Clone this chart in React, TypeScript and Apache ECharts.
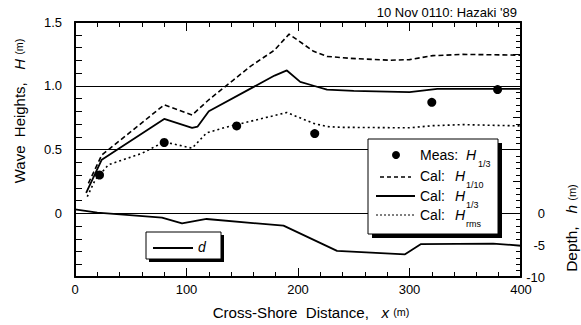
import React, { useEffect, useRef } from "react";
import * as echarts from "echarts";

const xTicks = [0, 100, 200, 300, 400];
const hTickLabels = ["0", "0.5", "1.0", "1.5"];
const depthTickLabels = ["0", "-5", "-10"];

const h110X = [12, 24, 80, 105, 120, 142, 157, 179, 192, 214, 226, 247, 283, 300, 321, 348, 400];
const h110Y = [0.235, 0.457, 0.85, 0.77, 0.89, 1.045, 1.15, 1.28, 1.405, 1.27, 1.23, 1.215, 1.2, 1.205, 1.236, 1.246, 1.24];

const h13X = [10, 24, 80, 105, 110, 120, 179, 190, 202, 214, 226, 250, 300, 325, 400];
const h13Y = [0.16, 0.42, 0.74, 0.67, 0.68, 0.8, 1.08, 1.12, 1.03, 1.0, 0.97, 0.96, 0.95, 0.975, 0.975];

const hrmsX = [11, 18, 30, 60, 80, 105, 118, 135, 190, 214, 226, 238, 300, 321, 348, 400];
const hrmsY = [0.13, 0.26, 0.38, 0.47, 0.56, 0.51, 0.63, 0.674, 0.79, 0.705, 0.68, 0.674, 0.67, 0.687, 0.695, 0.685];

const measX = [22, 80, 145, 215, 320, 379];
const measY = [0.3, 0.555, 0.685, 0.625, 0.87, 0.97];

const depthX = [0, 20, 78, 96, 118, 187, 235, 296, 310, 375, 400];
const depthY = [0.6, 0.1, -0.7, -1.6, -0.9, -1.95, -5.9, -6.45, -4.85, -4.75, -5.1];

const zip = (xs: number[], ys: number[]) => xs.map((x, i) => [x, ys[i]]);

const FONT = 'Arial, "Liberation Sans", Helvetica, sans-serif';
const INK = "#000";

const nameRich = {
  i: { fontStyle: "italic", fontSize: 14, fontFamily: FONT, fill: INK },
  s: { fontSize: 10, fontFamily: FONT, fill: INK },
};

export default function App() {
  const ref = useRef<HTMLDivElement>(null);
  useEffect(() => {
    if (!ref.current) return;
    const chart = echarts.init(ref.current, undefined, { renderer: "svg" });
    const xAxisCommon = {
      type: "value" as const,
      min: xTicks[0],
      max: xTicks[xTicks.length - 1],
      interval: 100,
      axisLine: { show: true, onZero: false, lineStyle: { color: INK, width: 2 } },
      axisTick: { show: true, inside: true, length: 9, lineStyle: { color: INK, width: 1 } },
      minorTick: { show: true, splitNumber: 5, length: 5, lineStyle: { color: INK, width: 1 } },
      splitLine: { show: false },
      minorSplitLine: { show: false },
    };
    const legendRows = [
      { label: "Meas:", y: 155, hx: 466, sub: "1/3", sx: 478 },
      { label: "Cal:", y: 176, hx: 455, sub: "1/10", sx: 466 },
      { label: "Cal:", y: 196, hx: 455, sub: "1/3", sx: 466 },
      { label: "Cal:", y: 215, hx: 455, sub: "rms", sx: 466 },
    ];
    const option = {
      animation: false,
      backgroundColor: "#fff",
      textStyle: { fontFamily: FONT },
      grid: { left: 75, top: 22, right: 60, bottom: 48, containLabel: false },
      xAxis: [
        {
          ...xAxisCommon,
          position: "bottom",
          axisLabel: { show: true, color: INK, fontSize: 13, margin: 6, fontFamily: FONT },
        },
        {
          ...xAxisCommon,
          position: "top",
          axisLabel: { show: false },
        },
      ],
      yAxis: [
        {
          type: "value",
          position: "left",
          min: -0.5,
          max: 1.5,
          interval: 0.5,
          axisLine: { show: true, onZero: false, lineStyle: { color: INK, width: 2 } },
          axisTick: { show: true, inside: true, length: 7, lineStyle: { color: INK, width: 1 } },
          minorTick: { show: true, splitNumber: 5, length: 7, lineStyle: { color: INK, width: 1 } },
          splitLine: { show: true, lineStyle: { color: INK, width: 1 } },
          axisLabel: {
            show: true,
            color: INK,
            fontSize: 13,
            margin: 13,
            fontFamily: FONT,
            formatter: (v: number) => {
              if (v < 0) return "";
              const idx = Math.round(v / 0.5);
              return hTickLabels[idx] ?? "";
            },
          },
        },
        {
          type: "value",
          position: "right",
          min: -10,
          max: 30,
          interval: 5,
          axisLine: { show: true, onZero: false, lineStyle: { color: INK, width: 2 } },
          axisTick: { show: true, inside: true, length: 8, lineStyle: { color: INK, width: 1 } },
          minorTick: { show: true, splitNumber: 5, length: 5, lineStyle: { color: INK, width: 1 } },
          splitLine: { show: false },
          axisLabel: {
            show: true,
            color: INK,
            fontSize: 13,
            margin: 24,
            align: "right",
            fontFamily: FONT,
            formatter: (v: number) => {
              if (v > 0) return "";
              const idx = Math.round(-v / 5);
              return depthTickLabels[idx] ?? "";
            },
          },
        },
      ],
      series: [
        {
          type: "line",
          name: "Cal H1/10",
          xAxisIndex: 0,
          yAxisIndex: 0,
          data: zip(h110X, h110Y),
          symbol: "none",
          lineStyle: { color: INK, width: 1.6, type: [5, 3] },
          z: 3,
        },
        {
          type: "line",
          name: "Cal H1/3",
          xAxisIndex: 0,
          yAxisIndex: 0,
          data: zip(h13X, h13Y),
          symbol: "none",
          lineStyle: { color: INK, width: 1.8, type: "solid" },
          z: 3,
        },
        {
          type: "line",
          name: "Cal Hrms",
          xAxisIndex: 0,
          yAxisIndex: 0,
          data: zip(hrmsX, hrmsY),
          symbol: "none",
          lineStyle: { color: INK, width: 1.6, type: [2, 3] },
          z: 3,
        },
        {
          type: "scatter",
          name: "Meas H1/3",
          xAxisIndex: 0,
          yAxisIndex: 0,
          data: zip(measX, measY),
          symbol: "circle",
          symbolSize: 9,
          itemStyle: { color: INK, opacity: 1 },
          z: 4,
        },
        {
          type: "line",
          name: "d",
          xAxisIndex: 0,
          yAxisIndex: 1,
          data: zip(depthX, depthY),
          symbol: "none",
          lineStyle: { color: INK, width: 1.8 },
          z: 3,
        },
      ],
      graphic: [
        {
          type: "text",
          x: 517,
          y: 12,
          z: 100,
          style: {
            text: "10 Nov 0110: Hazaki '89",
            fill: INK,
            font: `13px ${FONT}`,
            align: "right",
            verticalAlign: "middle",
          },
        },
        {
          type: "text",
          x: 20,
          y: 111,
          rotation: Math.PI / 2,
          scaleX: 1.07,
          z: 100,
          style: {
            text: "Wave  Heights,   {i|H} {s|(m)}",
            fill: INK,
            fontSize: 14,
            fontFamily: FONT,
            align: "center",
            verticalAlign: "middle",
            rich: nameRich,
          },
        },
        {
          type: "text",
          x: 572,
          y: 228,
          rotation: Math.PI / 2,
          scaleX: 1.1,
          z: 100,
          style: {
            text: "Depth,   {i|h} {s|(m)}",
            fill: INK,
            fontSize: 14,
            fontFamily: FONT,
            align: "center",
            verticalAlign: "middle",
            rich: nameRich,
          },
        },
        {
          type: "text",
          x: 311,
          y: 313,
          scaleX: 1.08,
          z: 100,
          style: {
            text: "Cross-Shore  Distance,   {i|x} {s|(m)}",
            fill: INK,
            fontSize: 14,
            fontFamily: FONT,
            align: "center",
            verticalAlign: "middle",
            rich: nameRich,
          },
        },
        // main legend box
        {
          type: "rect",
          z: 100,
          shape: { x: 372, y: 143, width: 130, height: 95 },
          style: { fill: INK },
        },
        {
          type: "rect",
          z: 101,
          shape: { x: 368, y: 139, width: 130, height: 95 },
          style: { fill: "#fff", stroke: INK, lineWidth: 1 },
        },
        {
          type: "circle",
          z: 102,
          shape: { cx: 396, cy: 155, r: 4 },
          style: { fill: INK },
        },
        {
          type: "line",
          z: 102,
          shape: { x1: 380, y1: 177, x2: 411, y2: 177 },
          style: { stroke: INK, lineWidth: 1.6, lineDash: [4, 3] },
        },
        {
          type: "line",
          z: 102,
          shape: { x1: 376, y1: 196, x2: 415, y2: 196 },
          style: { stroke: INK, lineWidth: 1.8 },
        },
        {
          type: "line",
          z: 102,
          shape: { x1: 376, y1: 215, x2: 415, y2: 215 },
          style: { stroke: INK, lineWidth: 1, lineDash: [2, 2] },
        },
        ...legendRows.flatMap((r) => [
          {
            type: "text",
            x: 420,
            y: r.y,
            z: 102,
            style: {
              text: r.label,
              fill: INK,
              fontSize: 14,
              fontFamily: FONT,
              align: "left",
              verticalAlign: "middle",
            },
          },
          {
            type: "text",
            x: r.hx,
            y: r.y,
            z: 102,
            style: {
              text: "H",
              fill: INK,
              fontSize: 14,
              fontStyle: "italic",
              fontFamily: FONT,
              align: "left",
              verticalAlign: "middle",
            },
          },
          {
            type: "text",
            x: r.sx,
            y: r.y + 9,
            z: 102,
            style: {
              text: r.sub,
              fill: INK,
              fontSize: 9,
              fontFamily: FONT,
              align: "left",
              verticalAlign: "middle",
            },
          },
        ]),
        // small legend box
        {
          type: "rect",
          z: 100,
          shape: { x: 149, y: 235, width: 75, height: 27 },
          style: { fill: INK },
        },
        {
          type: "rect",
          z: 101,
          shape: { x: 146, y: 232, width: 75, height: 27 },
          style: { fill: "#fff", stroke: INK, lineWidth: 1 },
        },
        {
          type: "line",
          z: 102,
          shape: { x1: 153, y1: 248, x2: 193, y2: 248 },
          style: { stroke: INK, lineWidth: 1.8 },
        },
        {
          type: "text",
          x: 198,
          y: 247,
          z: 102,
          style: {
            text: "d",
            fill: INK,
            fontSize: 14,
            fontStyle: "italic",
            fontFamily: FONT,
            align: "left",
            verticalAlign: "middle",
          },
        },
      ],
    };
    chart.setOption(option as any);
    return () => chart.dispose();
  }, []);
  return (
    <div
      ref={ref}
      style={{ position: "fixed", left: 0, top: 0, width: 581, height: 325, background: "#fff" }}
    />
  );
}
